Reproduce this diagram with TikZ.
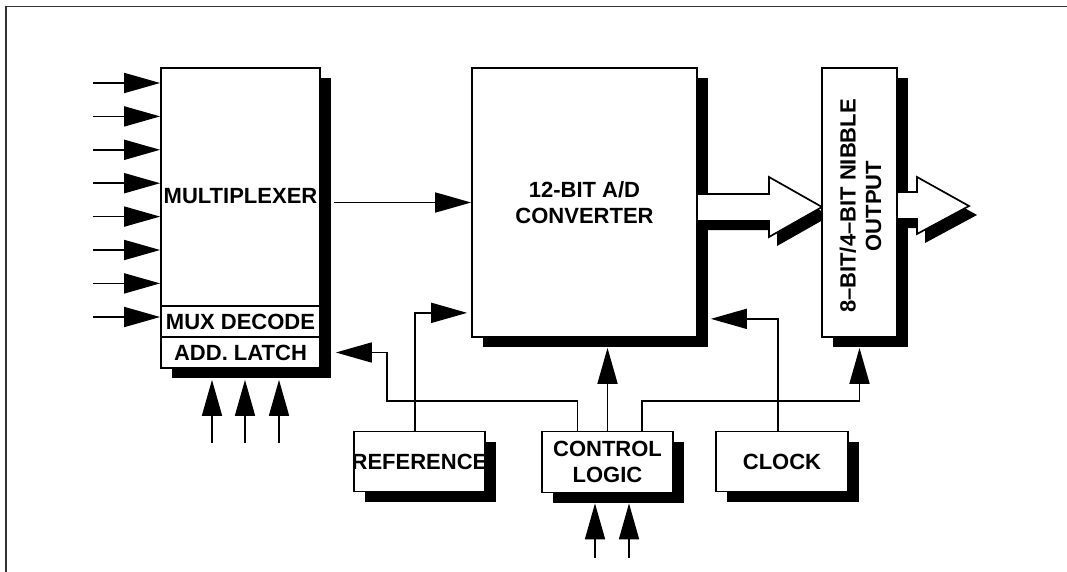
\documentclass[tikz,border=0pt]{standalone}
\usepackage{fontspec}
\setmainfont{Liberation Sans}
\usetikzlibrary{arrows.meta,shadows}
\tikzset{
  lbl/.style = {align=center, inner sep=0pt, text centered,
    font=\bfseries\fontsize{22pt}{25.5pt}\selectfont},% texte des blocs
  blk/.style = {lbl, rectangle, draw=black, fill=white, line width=1.7pt,
    drop shadow={shadow xshift=11pt, shadow yshift=-10pt, opacity=1, fill=black}},% bloc avec ombre
  sig/.style = {line width=1.7pt, -{Triangle[length=36pt, width=20pt]}},% signal
  fat_arr/.style = {draw=black, fill=white, line width=1.7pt,
    drop shadow={shadow xshift=8pt, shadow yshift=-9pt, opacity=1, fill=black}}% bus de donnees
}

\begin{document}
\begin{tikzpicture}[x=1pt, y=-1pt]
  \useasboundingbox (0,0) rectangle (1067,572);
  \draw[black!80, line width=1.7pt] (6,572) -- (6,6.5) -- (1067,6.5);% cadre

  % blocs
  \node [blk, minimum width=159pt, minimum height=238pt] (mux) at (240.5,187) {};
  \node [lbl] (mux_lbl) at (240.5,196) {MULTIPLEXER};
  \node [blk, minimum width=159pt, minimum height=31pt] (muxdec) at (240.5,321.5) {MUX DECODE};
  \node [blk, minimum width=159pt, minimum height=31pt] (latch) at (240.5,352.5) {ADD. LATCH};
  \node [blk, minimum width=225pt, minimum height=269pt] (adc) at (584.5,202.5) {12-BIT A/D\\CONVERTER};
  \draw [fat_arr] (697,194) -- (769,194) -- (769,177) -- (822,207)
    -- (769,237) -- (769,221) -- (697,221) -- cycle;
  \node [blk, minimum width=75pt, minimum height=269pt] (outb) at (859.5,202.5) {};
  \node [lbl, rotate=90] (out_lbl) at (860.5,206) {8–BIT/4–BIT NIBBLE\\OUTPUT};
  \draw [fat_arr] (897,192) -- (917,192) -- (917,177) -- (969,206)
    -- (917,234) -- (917,219) -- (897,219) -- cycle;
  \node [blk, minimum width=131pt, minimum height=60pt] (ref) at (419.5,461.5) {\makebox[0pt]{REFERENCE}};
  \node [blk, minimum width=131pt, minimum height=61pt] (ctrl) at (607.5,462) {CONTROL\\LOGIC};
  \node [blk, minimum width=132pt, minimum height=60pt] (clk) at (782,461.5) {CLOCK};

  % entrees analogiques
  \foreach \i in {0,...,6}{
    \coordinate (in\i) at (93,{83+33.4*\i});
    \draw [sig] (in\i) -- (in\i -| mux.west);
  }
  \coordinate (in7) at (93,317);
  \draw [sig] (in7) -- (in7 -| muxdec.west);
  \foreach \x in {212,245,279}{
    \coordinate (add\x) at (\x,443);
    \draw [sig, shorten >=11pt] (add\x) -- (add\x |- latch.south);
  }

  % liaisons
  \coordinate (bus_l) at (387,401);
  \coordinate (bus_r) at (outb.south |- bus_l);
  \draw [sig, shorten <=13pt] (mux.east |- adc.west) -- (adc.west);
  \draw [sig, shorten >=4pt] ([xshift=-4.5pt]ref.north) |- ([yshift=25pt]adc.south west);
  \draw [sig, shorten >=10pt] (ctrl.north) -- (ctrl.north |- adc.south);
  \draw [sig] ([xshift=-30pt]ctrl.north) |- (bus_l) |- ([xshift=15pt]latch.east);
  \draw [sig, shorten >=10pt] ([xshift=34.5pt]ctrl.north) |- (bus_r) -- (outb.south);
  \draw [sig] ([xshift=-4pt]clk.north) |- ([xshift=13pt, yshift=19pt]adc.south east);
  \foreach \x in {595,629}{
    \coordinate (ci\x) at (\x,558);
    \draw [sig, shorten >=10pt] (ci\x) -- (ci\x |- ctrl.south);
  }
\end{tikzpicture}
\end{document}
